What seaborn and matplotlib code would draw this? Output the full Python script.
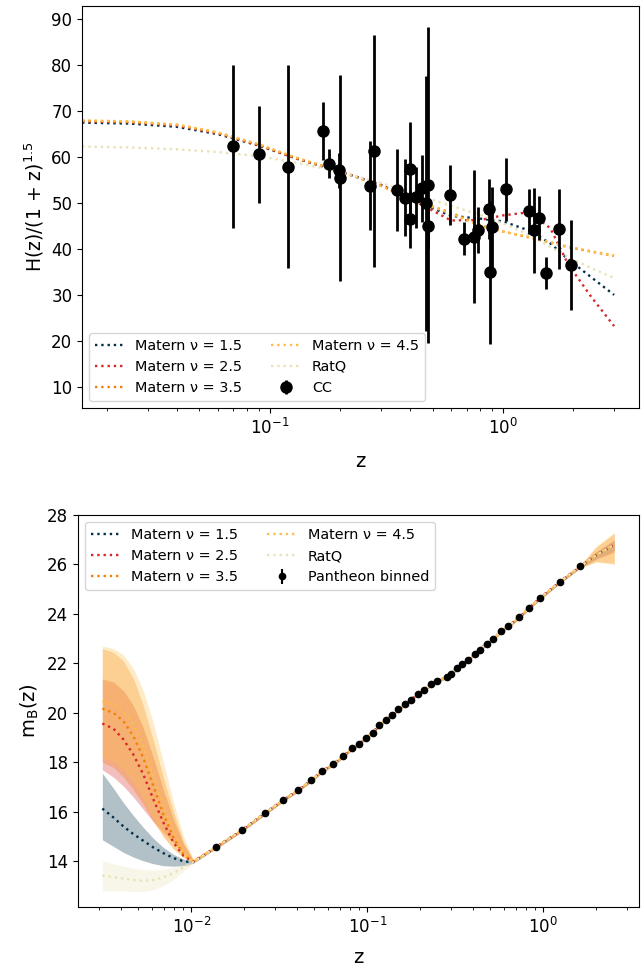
import numpy as np
import pandas as pd
import matplotlib
matplotlib.use("Agg")
import matplotlib.pyplot as plt
import seaborn as sns

# ---------------- data ----------------
model_labels = ["Matern ν = 1.5", "Matern ν = 2.5", "Matern ν = 3.5", "Matern ν = 4.5", "RatQ"]
model_colors = ["#003049", "#d62828", "#f77f00", "#fcbf49", "#eae2b7"]

# Cosmic chronometers
z_cc = [0.07, 0.09, 0.12, 0.17, 0.179, 0.199, 0.2, 0.27, 0.28, 0.352, 0.3802, 0.4, 0.4004,
        0.4247, 0.4497, 0.47, 0.4783, 0.48, 0.593, 0.68, 0.75, 0.781, 0.875, 0.88, 0.9,
        1.037, 1.3, 1.363, 1.43, 1.53, 1.75, 1.965]
H_cc = [69.0, 69.0, 68.6, 83.0, 75.0, 75.0, 72.9, 77.0, 88.8, 83.0, 83.0, 95.0, 77.0,
        87.1, 92.8, 89.0, 80.9, 97.0, 104.0, 92.0, 98.8, 105.0, 125.0, 90.0, 117.0,
        154.0, 168.0, 160.0, 177.0, 140.0, 202.0, 186.5]
sH_cc = [19.6, 12.0, 26.2, 8.0, 4.0, 5.0, 29.6, 14.0, 36.6, 14.0, 13.5, 17.0, 10.2,
         11.2, 12.9, 49.6, 9.0, 62.0, 13.0, 8.0, 33.6, 12.0, 17.0, 40.0, 23.0,
         20.0, 17.0, 33.6, 18.0, 14.0, 40.0, 50.4]

# GP reconstructions of H(z)/(1+z)^1.5
z_top = [0.0157, 0.025, 0.04, 0.06, 0.09, 0.13, 0.2, 0.3, 0.45, 0.6, 0.8, 1.0, 1.3, 1.6, 1.9, 2.4, 3.0]
h_m15 = [67.5, 67.3, 66.6, 65.0, 62.5, 59.7, 56.9, 53.9, 49.8, 47.2, 46.6, 46.0, 44.0, 41.2, 37.8, 33.8, 30.0]
h_m25 = [67.8, 67.6, 66.9, 65.2, 62.6, 59.7, 56.9, 54.0, 49.6, 46.2, 46.3, 47.3, 48.0, 44.5, 36.8, 29.5, 23.2]
h_m35 = [67.9, 67.7, 67.0, 65.3, 62.7, 59.8, 56.9, 53.8, 50.0, 47.9, 45.2, 43.8, 42.5, 41.4, 40.4, 39.4, 38.5]
h_m45 = [68.0, 67.8, 67.1, 65.4, 62.8, 59.9, 56.9, 53.7, 49.9, 47.7, 45.0, 43.8, 42.6, 41.5, 40.5, 39.5, 38.6]
h_rq = [62.3, 62.1, 61.7, 61.1, 60.2, 58.8, 56.8, 54.4, 51.4, 49.4, 47.4, 45.6, 43.1, 40.4, 38.3, 35.8, 33.7]

# Pantheon binned
z_pb = [0.0138, 0.0194, 0.0262, 0.0332, 0.0404, 0.0479, 0.0553, 0.0638, 0.0728, 0.0819,
        0.0897, 0.0983, 0.1077, 0.1165, 0.1276, 0.1384, 0.1499, 0.164, 0.1778, 0.1948,
        0.2109, 0.2311, 0.2502, 0.283, 0.299, 0.324, 0.347, 0.373, 0.407, 0.436,
        0.477, 0.52, 0.575, 0.633, 0.728, 0.83, 0.957, 1.245, 1.62]
m_pb = [14.57, 15.26, 15.94, 16.47, 16.87, 17.27, 17.64, 17.92, 18.24, 18.56,
        18.73, 19.0, 19.2, 19.5, 19.7, 19.9, 20.14, 20.34, 20.54, 20.78,
        20.94, 21.15, 21.3, 21.45, 21.58, 21.8, 21.96, 22.14, 22.38, 22.56,
        22.8, 22.99, 23.3, 23.5, 23.86, 24.24, 24.64, 25.3, 25.92]
sm_pb = [0.05] * len(z_pb)

# GP reconstructions of m_B(z): low-z part (differs per kernel)
z_low = [0.00312, 0.00361, 0.00411, 0.00468, 0.00533, 0.00608, 0.00693, 0.00791, 0.00902, 0.01026]
mb_low = {
    "m15": [16.13, 15.77, 15.41, 15.10, 14.83, 14.56, 14.33, 14.13, 14.00, 13.96],
    "m25": [19.57, 19.36, 18.93, 18.32, 17.52, 16.51, 15.57, 14.76, 14.22, 13.98],
    "m35": [20.17, 20.00, 19.67, 19.06, 18.19, 17.04, 15.90, 14.96, 14.29, 13.98],
    "m45": [20.47, 20.34, 20.07, 19.53, 18.66, 17.45, 16.24, 15.17, 14.36, 13.98],
    "rq":  [13.42, 13.36, 13.30, 13.24, 13.21, 13.24, 13.35, 13.52, 13.75, 13.96],
}
hi_low = {
    "m15": [17.56, 16.95, 16.37, 15.85, 15.37, 14.93, 14.56, 14.28, 14.09, 13.99],
    "m25": [21.37, 21.25, 20.90, 20.30, 19.40, 18.20, 16.90, 15.70, 14.70, 14.05],
    "m35": [22.60, 22.45, 22.10, 21.40, 20.30, 18.90, 17.40, 16.00, 14.80, 14.05],
    "m45": [22.70, 22.60, 22.35, 21.80, 20.90, 19.60, 18.00, 16.40, 15.00, 14.10],
    "rq":  [14.02, 13.90, 13.80, 13.72, 13.66, 13.64, 13.68, 13.75, 13.88, 14.00],
}
lo_low = {
    "m15": [14.87, 14.60, 14.36, 14.17, 14.02, 13.90, 13.82, 13.80, 13.82, 13.92],
    "m25": [17.70, 17.40, 17.04, 16.60, 16.10, 15.60, 15.17, 14.75, 14.36, 14.00],
    "m35": [18.00, 17.80, 17.40, 16.90, 16.30, 15.60, 15.00, 14.50, 14.15, 13.95],
    "m45": [18.20, 18.05, 17.70, 17.20, 16.50, 15.70, 15.00, 14.50, 14.15, 13.95],
    "rq":  [12.81, 12.80, 12.80, 12.78, 12.78, 12.85, 13.00, 13.25, 13.60, 13.90],
}
# high-z tail (beyond last bin)
z_tail = [2.0, 2.53]
mb_tail = [26.38, 26.80]
hi_tail = {"m15": [26.50, 26.95], "m25": [26.52, 27.00], "m35": [26.70, 27.25],
           "m45": [26.75, 27.30], "rq": [26.50, 26.95]}
lo_tail = {"m15": [26.25, 26.60], "m25": [26.22, 26.50], "m35": [26.12, 26.05],
           "m45": [26.10, 26.00], "rq": [26.25, 26.62]}
band_mid = 0.06

keys = ["m15", "m25", "m35", "m45", "rq"]
top_curves = [h_m15, h_m25, h_m35, h_m45, h_rq]

# ---------------- figure ----------------
plt.rcParams["font.family"] = ["DejaVu Sans"]
fig = plt.figure(figsize=(6.41, 9.71), dpi=100)
ax1 = fig.add_axes([0.128, 0.5798, 0.869, 0.4140])
ax2 = fig.add_axes([0.1217, 0.0659, 0.8753, 0.4037])

# top panel
ax1.set_xscale("log")
for c, lab, h in zip(model_colors, model_labels, top_curves):
    df = pd.DataFrame({"z": z_top, "h": h})
    sns.lineplot(data=df, x="z", y="h", ax=ax1, color=c, linestyle=":", linewidth=1.7,
                 label=lab, sort=False, estimator=None)
zc = np.array(z_cc)
scale = (1 + zc) ** 1.5
ax1.errorbar(zc, np.array(H_cc) / scale, yerr=np.array(sH_cc) / scale, fmt="o",
             color="k", ms=8, elinewidth=2, label="CC", zorder=5)
ax1.set_xlim(0.0157, 3.84)
ax1.set_ylim(5.36, 92.9)
ax1.set_xlabel("z", fontsize=14, labelpad=10)
ax1.set_ylabel(r"H(z)/(1 + z)$^{1.5}$", fontsize=13.5)
ax1.tick_params(labelsize=12)
ax1.legend(ncol=2, loc="lower left", fontsize=10.4)

# bottom panel
ax2.set_xscale("log")
for k, c in zip(keys, model_colors):
    zz = z_low + z_pb + z_tail
    hi = hi_low[k] + [m + band_mid for m in m_pb] + hi_tail[k]
    lo = lo_low[k] + [m - band_mid for m in m_pb] + lo_tail[k]
    ax2.fill_between(zz, lo, hi, color=c, alpha=0.3, linewidth=0)
for k, c, lab in zip(keys, model_colors, model_labels):
    df = pd.DataFrame({"z": z_low + z_pb + z_tail, "m": mb_low[k] + m_pb + mb_tail})
    sns.lineplot(data=df, x="z", y="m", ax=ax2, color=c, linestyle=":", linewidth=1.7,
                 label=lab, sort=False, estimator=None)
ax2.errorbar(z_pb, m_pb, yerr=sm_pb, fmt="o", color="k", ms=4.5, elinewidth=1.5,
             label="Pantheon binned", zorder=5)
ax2.set_xlim(0.00227, 3.5)
ax2.set_ylim(12.15, 28.0)
ax2.set_yticks([14, 16, 18, 20, 22, 24, 26, 28])
ax2.set_xlabel("z", fontsize=14, labelpad=8)
ax2.set_ylabel(r"m$_{\rm B}$(z)", fontsize=14)
ax2.tick_params(labelsize=12)
ax2.legend(ncol=2, loc="upper left", fontsize=10.4)

fig.savefig("out.png", dpi=100)
